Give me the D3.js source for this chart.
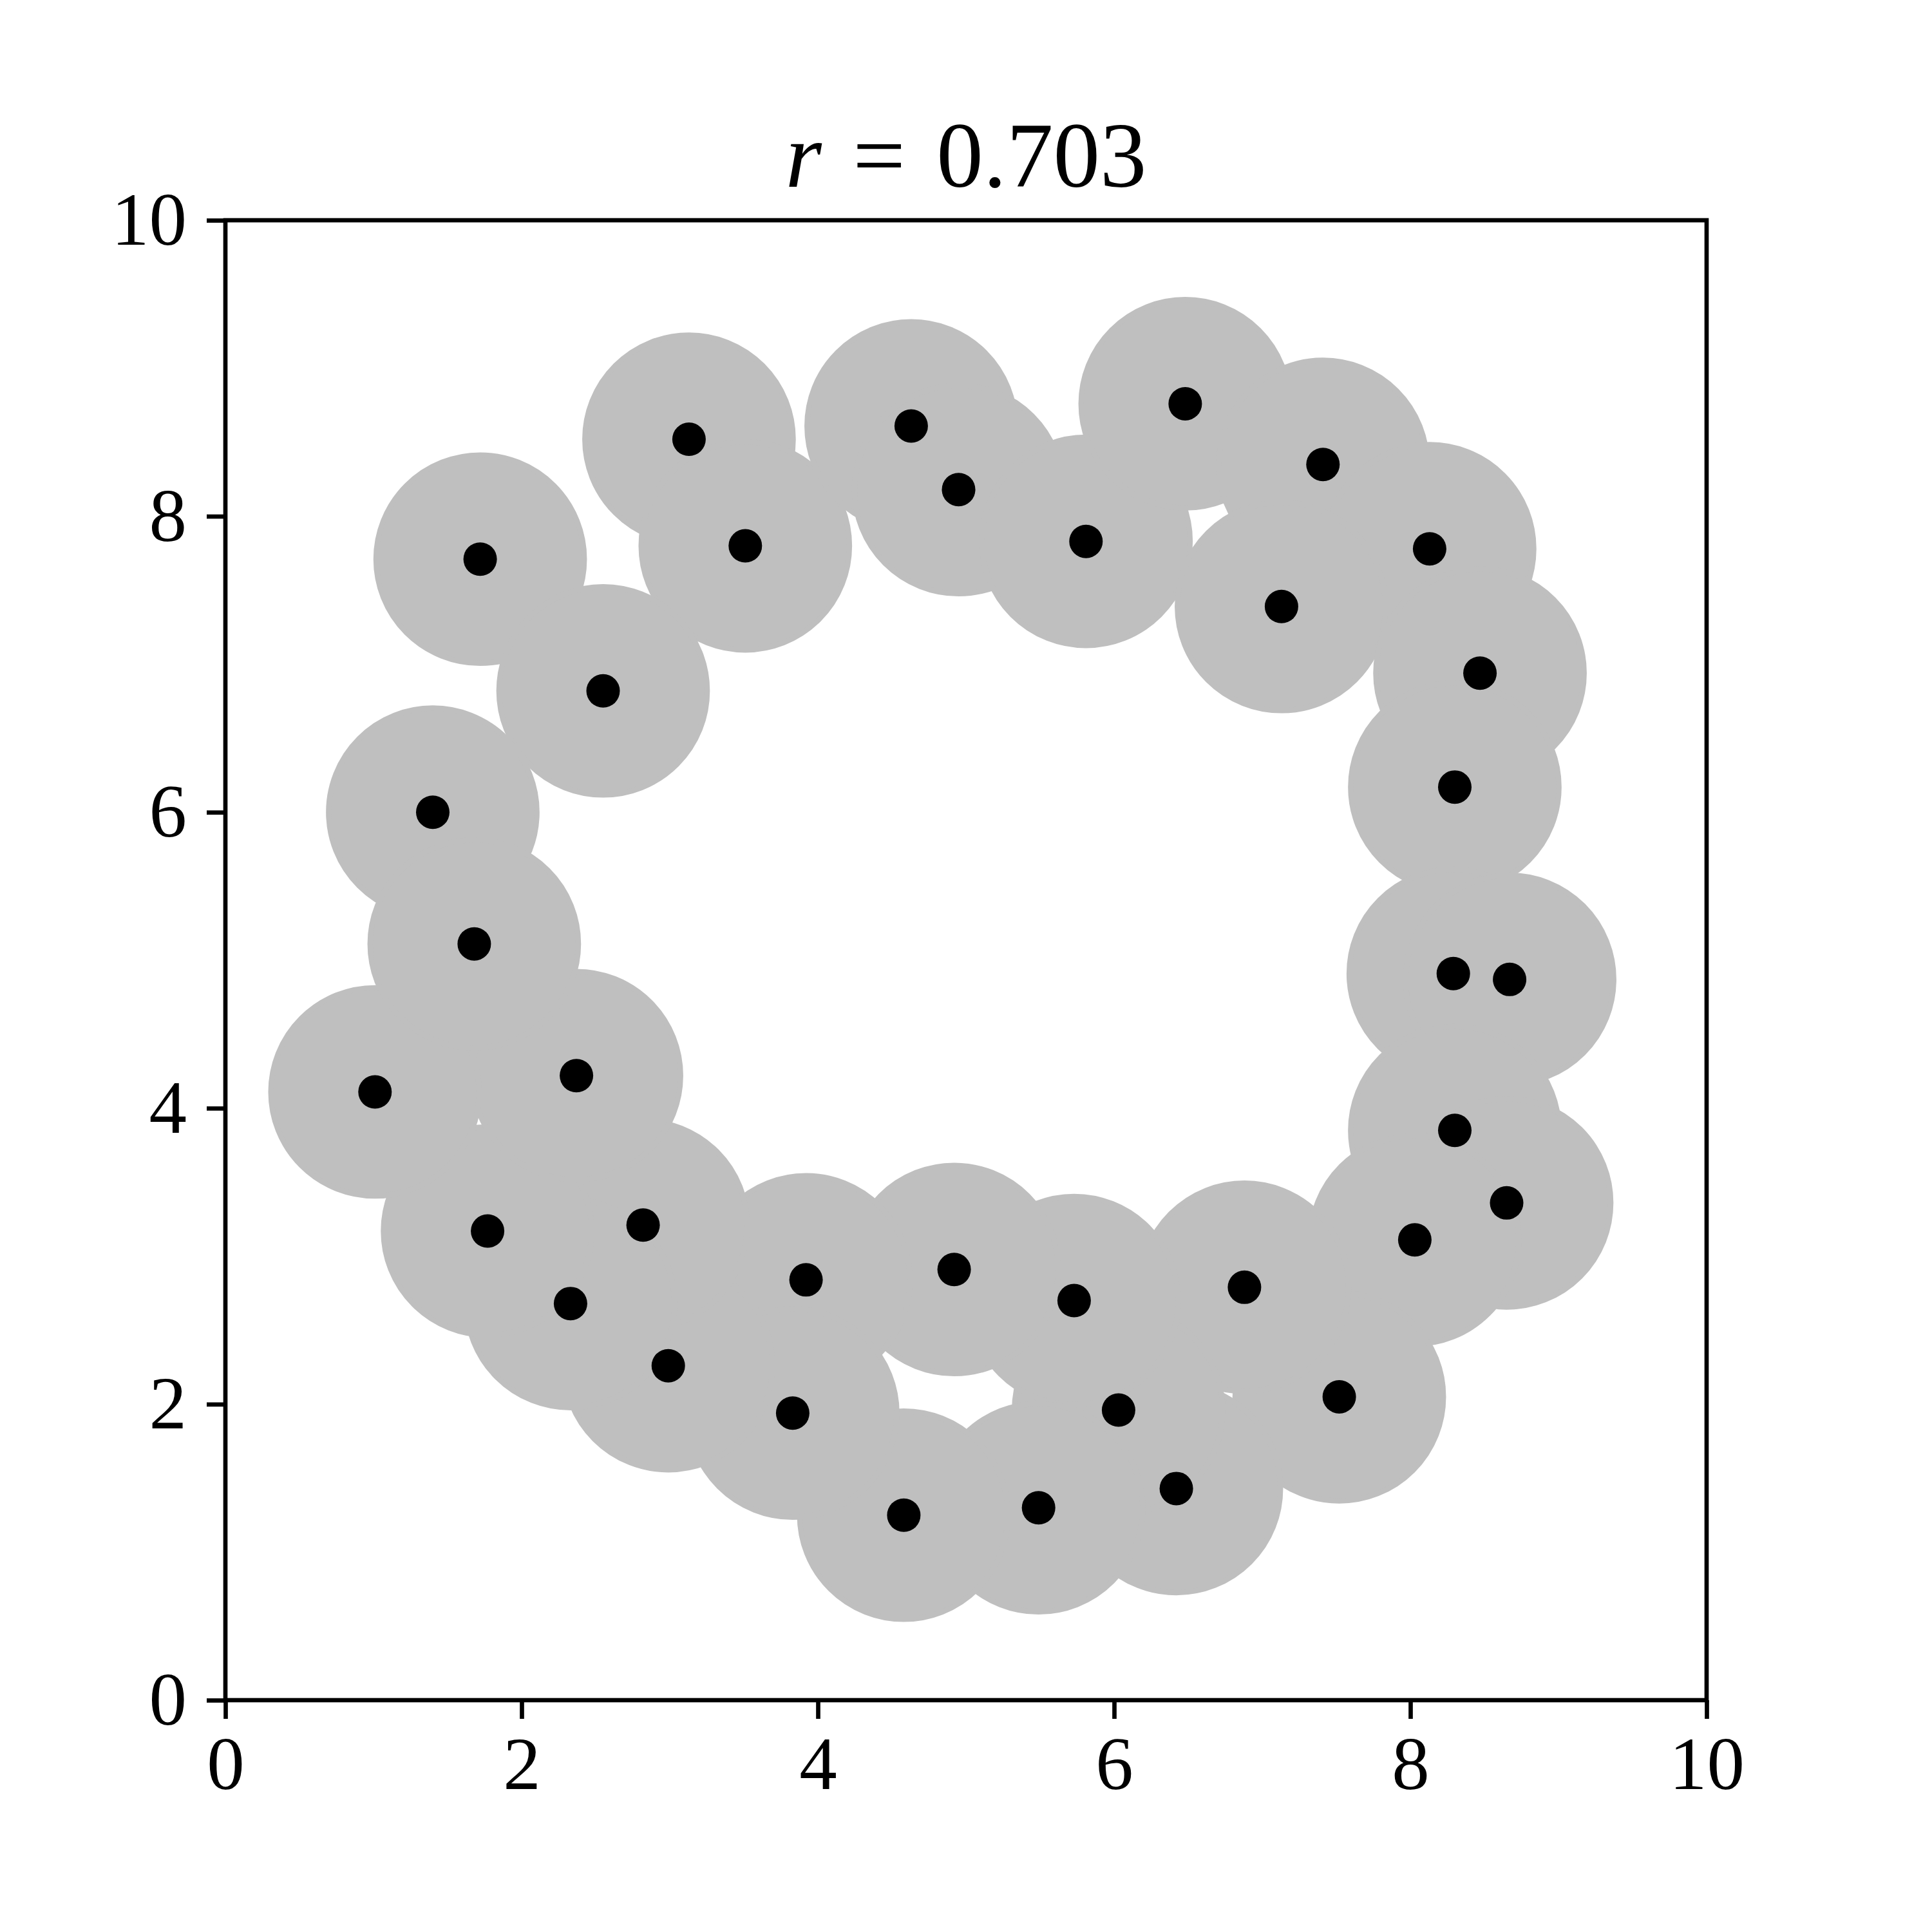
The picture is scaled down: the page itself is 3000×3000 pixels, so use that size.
<!DOCTYPE html>
<html>
<head>
<meta charset="utf-8">
<script src="https://cdn.jsdelivr.net/npm/d3@7"></script>
<style>
  html, body { margin: 0; padding: 0; background: #fff; }
  svg { display: block; }
  .tick text { font-family: "Liberation Serif", "DejaVu Serif", serif; }
</style>
</head>
<body>
<svg id="chart" width="3000" height="3000"></svg>
<script>
// point centres (data units)
var xs = [1.72, 3.13, 3.51, 2.55, 1.40, 4.63, 4.95, 5.81, 6.48, 7.41,
          8.13, 7.13, 8.47, 8.30, 8.29, 8.67, 8.30, 8.65, 8.03, 7.52,
          6.88, 6.42, 6.03, 5.73, 5.49, 4.92, 4.58, 3.92, 3.83, 2.99,
          2.82, 2.33, 1.77, 2.37, 1.01, 1.68];
var ys = [7.71, 8.52, 7.80, 6.82, 6.00, 8.61, 8.18, 7.83, 8.76, 8.35,
          7.78, 7.39, 6.94, 6.17, 4.91, 4.87, 3.85, 3.36, 3.11, 2.05,
          2.79, 1.43, 1.96, 2.70, 1.30, 2.91, 1.25, 2.84, 1.94, 2.26,
          3.21, 2.68, 3.17, 4.22, 4.11, 5.11];
var R = 0.703;           // ball radius, data units
var xTicks = [0, 2, 4, 6, 8, 10];
var yTicks = [0, 2, 4, 6, 8, 10];

(function () {
    var left = 350, right = 2650, top = 342, bottom = 2640;
    var svg = d3.select('#chart');

    var x = d3.scaleLinear().domain([0, 10]).range([left, right]);
    var y = d3.scaleLinear().domain([0, 10]).range([bottom, top]);

    var pts = xs.map(function (v, i) { return { x: v, y: ys[i] }; });

    // grey balls (same-colour edge, like a matplotlib Circle)
    svg.append('g').selectAll('circle').data(pts).join('circle')
        .attr('cx', function (d) { return x(d.x); })
        .attr('cy', function (d) { return y(d.y); })
        .attr('r', function (d) { return x(d.x + R) - x(d.x); })
        .attr('fill', '#bfbfbf')
        .attr('stroke', '#bfbfbf')
        .attr('stroke-width', 8.3);

    // black centres on top
    svg.append('g').selectAll('circle').data(pts).join('circle')
        .attr('cx', function (d) { return x(d.x); })
        .attr('cy', function (d) { return y(d.y); })
        .attr('r', 26)
        .attr('fill', '#000');

    // ticks
    var lw = 6.67;
    var gx = svg.append('g').attr('transform', 'translate(0,' + bottom + ')')
        .call(d3.axisBottom(x).tickValues(xTicks).tickSize(29).tickSizeOuter(0).tickPadding(26));
    var gy = svg.append('g').attr('transform', 'translate(' + left + ',0)')
        .call(d3.axisLeft(y).tickValues(yTicks).tickSize(29).tickSizeOuter(0).tickPadding(31));
    [gx, gy].forEach(function (g) {
        g.select('.domain').remove();
        g.selectAll('.tick line').attr('stroke', '#000').attr('stroke-width', lw);
        g.selectAll('.tick text').attr('font-size', 117).attr('fill', '#000');
    });

    // frame
    svg.append('rect')
        .attr('x', left).attr('y', top)
        .attr('width', right - left).attr('height', bottom - top)
        .attr('fill', 'none').attr('stroke', '#000').attr('stroke-width', lw);

    // title
    var t = svg.append('text')
        .attr('x', (left + right) / 2).attr('y', 290)
        .attr('text-anchor', 'middle')
        .attr('font-family', '"Liberation Serif", "DejaVu Serif", serif')
        .attr('font-size', 145)
        .attr('fill', '#000');
    t.append('tspan').attr('font-style', 'italic').text('r');
    t.append('tspan').text('\u2004=\u2004' + R.toFixed(3));
})();
</script>
</body>
</html>
